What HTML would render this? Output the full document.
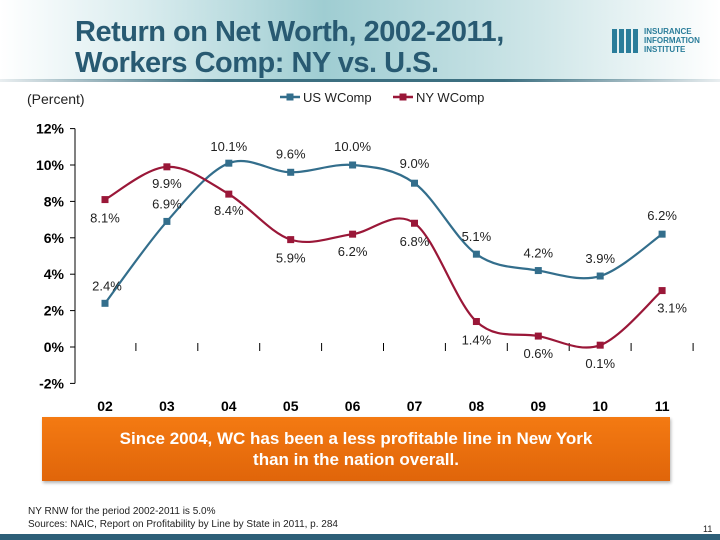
<!DOCTYPE html>
<html><head><meta charset="utf-8"><style>
body{margin:0;width:720px;height:540px;position:relative;overflow:hidden;background:#fff;font-family:"Liberation Sans",Arial,sans-serif}
.hdr{position:absolute;left:0;top:0;width:720px;height:80px;background:linear-gradient(90deg,#ffffff 0%,#d9ecee 20%,#9fcdd2 45%,#cfe6e8 75%,#ffffff 100%)}
.title{position:absolute;left:75px;top:17px;font-size:29px;font-weight:bold;color:#285a72;line-height:31px;letter-spacing:-0.5px}
.rule{position:absolute;left:0;top:79px;width:720px;height:3px;background:linear-gradient(90deg,rgba(40,90,110,0.1),#3c6f80 30%,#3c6f80 70%,rgba(40,90,110,0.1))}
</style></head><body>
<div class="hdr"></div>
<div class="title">Return on Net Worth, 2002-2011,<br>Workers Comp: NY vs. U.S.</div>
<div class="rule"></div>
<div style="position:absolute;left:612px;top:27px;width:100px;height:28px">
 <div style="position:absolute;left:0;top:2px;width:28px;height:24px;background:repeating-linear-gradient(90deg,#2a7d9a 0 5px,transparent 5px 7px)"></div>
 <div style="position:absolute;left:32px;top:0;font-size:8px;font-weight:bold;color:#2a7d9a;line-height:9px">INSURANCE<br>INFORMATION<br>INSTITUTE</div>
</div>
<div style="position:absolute;left:27px;top:91px;font-size:14px;color:#222">(Percent)</div>
<svg id="chart" width="720" height="540" style="position:absolute;left:0;top:0"></svg>
<div style="position:absolute;left:42px;top:417px;width:628px;height:64px;background:linear-gradient(180deg,#f47a12,#e0650a);box-shadow:1px 2px 3px rgba(0,0,0,.3);color:#fff;font-weight:bold;font-size:17px;text-align:center;line-height:21px;padding-top:11px;box-sizing:border-box">Since 2004, WC has been a less profitable line in New York<br>than in the nation overall.</div>
<div style="position:absolute;left:28px;top:505px;font-size:10px;color:#222;line-height:13px">NY RNW for the period 2002-2011 is 5.0%<br>Sources: NAIC, Report on Profitability by Line by State in 2011, p. 284</div>
<div style="position:absolute;left:703px;top:524px;font-size:9px;color:#222">11</div>
<div style="position:absolute;left:0;top:534px;width:720px;height:6px;background:#2d5f78"></div>
<script>
const categories=["02","03","04","05","06","07","08","09","10","11"];
const usValues=[2.4,6.9,10.1,9.6,10.0,9.0,5.1,4.2,3.9,6.2];
const nyValues=[8.1,9.9,8.4,5.9,6.2,6.8,1.4,0.6,0.1,3.1];
const yTicks=[12,10,8,6,4,2,0,-2];
const seriesNames=["US WComp","NY WComp"];
const usLabelDy=[-18,-18,-17,-19,-19,-20,-18,-18,-18,-19];
const usLabelDx=[2,0,0,0,0,0,0,0,0,0];
const nyLabelDy=[18,16,16,18,17,18,18,17,18,17];
const nyLabelDx=[0,0,0,0,0,0,0,0,0,10];
const svg=document.getElementById('chart');const NS='http://www.w3.org/2000/svg';
const x=i=>105+i*61.9;const y=v=>347-18.2*v;
function mk(t,a,p){const e=document.createElementNS(NS,t);for(const k in a)e.setAttribute(k,a[k]);(p||svg).appendChild(e);return e;}
let ax=mk('line',{x1:75,y1:y(12),x2:75,y2:y(-2),stroke:'#000','stroke-width':1});


yTicks.forEach(t=>{mk('line',{x1:70,x2:75,y1:y(t),y2:y(t),stroke:'#000'});
 const tx=mk('text',{x:64,y:y(t)+5,'text-anchor':'end','font-size':14,'font-weight':'bold',fill:'#000'});tx.textContent=t+'%';
 
 });
mk('line',{x1:x(9)+31,x2:x(9)+31,y1:y(0)-4,y2:y(0)+4,stroke:'#000'});
categories.forEach((c,i)=>{if(i>0)mk('line',{x1:x(i)-31,x2:x(i)-31,y1:y(0)-4,y2:y(0)+4,stroke:'#000'});
 const tx=mk('text',{x:x(i),y:411,'text-anchor':'middle','font-size':14,'font-weight':'bold',fill:'#000'});tx.textContent=c;
 
 });
function path(vals){const p=vals.map((v,i)=>[x(i),y(v)]);let d='M'+p[0];for(let i=0;i<p.length-1;i++){const p0=p[i-1]||p[i],p1=p[i],p2=p[i+1],p3=p[i+2]||p2;const t=6;
 d+=` C${p1[0]+(p2[0]-p0[0])/t},${p1[1]+(p2[1]-p0[1])/t} ${p2[0]-(p3[0]-p1[0])/t},${p2[1]-(p3[1]-p1[1])/t} ${p2[0]},${p2[1]}`;}return d;}
function series(vals,col,name,dx,dy){const g=mk('g',{});
 mk('path',{d:path(vals),fill:'none',stroke:col,'stroke-width':2.2},g);
 vals.forEach((v,i)=>{const r=mk('rect',{x:x(i)-3.5,y:y(v)-3.5,width:7,height:7,fill:col},g);
  
  
  const t=mk('text',{x:x(i)+dx[i],y:y(v)+dy[i]+5,'text-anchor':'middle','font-size':13,fill:'#222'},g);t.textContent=v.toFixed(1)+'%';
  
  });}
series(usValues,'#336e8c','us',usLabelDx,usLabelDy);
series(nyValues,'#9a1738','ny',nyLabelDx,nyLabelDy);
[[seriesNames[0],'#336e8c',280],[seriesNames[1],'#9a1738',393]].forEach(([n,c,lx])=>{const g=mk('g',{});
 
 
 mk('line',{x1:lx,x2:lx+20,y1:97,y2:97,stroke:c,'stroke-width':2.5},g);mk('rect',{x:lx+6.5,y:93.5,width:7,height:7,fill:c},g);
 const t=mk('text',{x:lx+23,y:102,'font-size':13,fill:'#222'},g);t.textContent=n;});
</script>
</body></html>
